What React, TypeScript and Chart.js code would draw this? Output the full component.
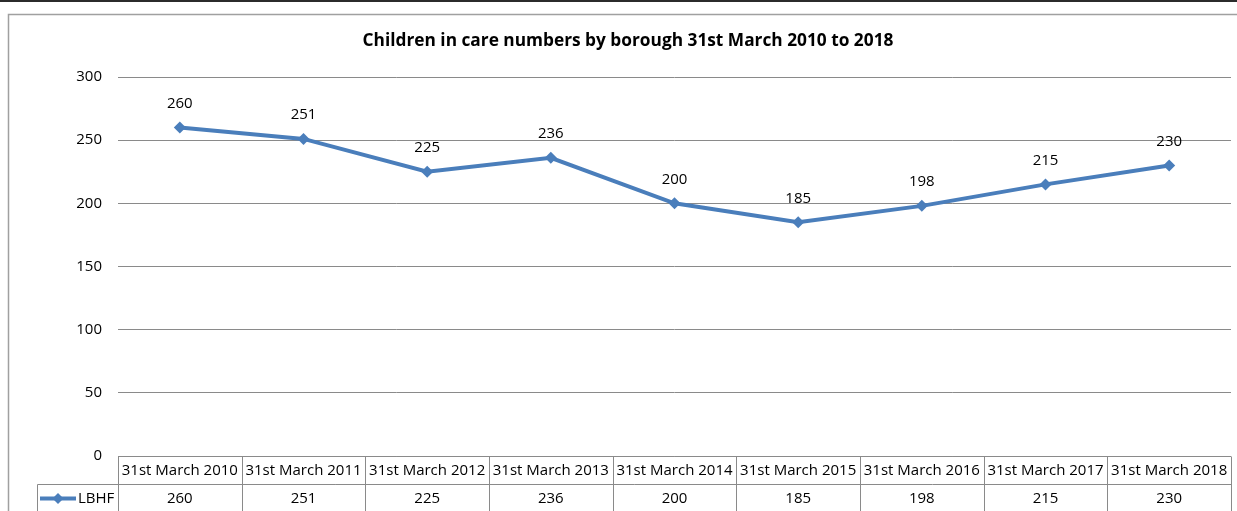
import React, { useEffect, useRef } from "react";
import { Chart, registerables } from "chart.js";

Chart.register(...registerables);

const chartTitle = "Children in care numbers by borough 31st March 2010 to 2018";
const categories = [
  "31st March 2010",
  "31st March 2011",
  "31st March 2012",
  "31st March 2013",
  "31st March 2014",
  "31st March 2015",
  "31st March 2016",
  "31st March 2017",
  "31st March 2018",
];
const seriesName = "LBHF";
const seriesValues = [260, 251, 225, 236, 200, 185, 198, 215, 230];
const yMin = 0;
const yMax = 300;
const yStep = 50;

const FONT = "'Open Sans', 'Liberation Sans', sans-serif";
const BLUE = "#4A7EBB";
const GRID = "#8a8a8a";

const decorPlugin = {
  id: "decor",
  beforeDraw(chart: any) {
    const { ctx, width, height } = chart;
    ctx.save();
    ctx.fillStyle = "#ffffff";
    ctx.fillRect(0, 0, width, height);
    // top dark rule
    ctx.strokeStyle = "#2b2b2b";
    ctx.lineWidth = 2;
    ctx.beginPath();
    ctx.moveTo(0, 1);
    ctx.lineTo(width, 1);
    ctx.stroke();
    // chart frame
    ctx.strokeStyle = "#a0a0a0";
    ctx.lineWidth = 1.5;
    ctx.beginPath();
    ctx.moveTo(width + 5, 14.5);
    ctx.lineTo(8.5, 14.5);
    ctx.lineTo(8.5, height + 5);
    ctx.stroke();
    // title
    ctx.fillStyle = "#000";
    ctx.font = `bold 17.3px ${FONT}`;
    ctx.textAlign = "center";
    ctx.textBaseline = "middle";
    ctx.fillText(chartTitle, 628, 41.5);
    ctx.restore();
  },
  afterDatasetsDraw(chart: any) {
    const { ctx } = chart;
    const meta = chart.getDatasetMeta(0);
    ctx.save();
    ctx.fillStyle = "#000";
    ctx.font = `15px ${FONT}`;
    ctx.textAlign = "center";
    ctx.textBaseline = "middle";
    meta.data.forEach((pt: any, i: number) => {
      ctx.fillText(String(seriesValues[i]), pt.x, pt.y - 24);
    });
    ctx.restore();
  },
  afterDraw(chart: any) {
    const { ctx, chartArea } = chart;
    const xs = chart.scales.x;
    const n = categories.length;
    const left = chartArea.left;
    const right = chartArea.right;
    const colW = (right - left) / n;
    const top = Math.round(chartArea.bottom) + 0.5;
    const rowH = 28;
    const legendLeft = 37.5;
    const bottom = chart.height + 5;
    ctx.save();
    ctx.strokeStyle = GRID;
    ctx.lineWidth = 1;
    ctx.beginPath();
    ctx.moveTo(left, top);
    ctx.lineTo(right, top);
    ctx.moveTo(legendLeft, top + rowH);
    ctx.lineTo(right, top + rowH);
    for (let i = 0; i <= n; i++) {
      const x = Math.round(left + i * colW) + 0.5;
      ctx.moveTo(x, top);
      ctx.lineTo(x, bottom);
    }
    ctx.moveTo(legendLeft, top + rowH);
    ctx.lineTo(legendLeft, bottom);
    ctx.stroke();

    ctx.fillStyle = "#000";
    ctx.font = `15px ${FONT}`;
    ctx.textAlign = "center";
    ctx.textBaseline = "middle";
    categories.forEach((c, i) => {
      const x = xs.getPixelForValue(i);
      ctx.fillText(c, x, top + rowH / 2);
      ctx.fillText(String(seriesValues[i]), x, top + rowH + rowH / 2);
    });

    // legend key
    const ly = top + rowH + rowH / 2;
    ctx.strokeStyle = BLUE;
    ctx.lineWidth = 4;
    ctx.beginPath();
    ctx.moveTo(40, ly);
    ctx.lineTo(76, ly);
    ctx.stroke();
    ctx.fillStyle = BLUE;
    ctx.beginPath();
    ctx.moveTo(58, ly - 5.5);
    ctx.lineTo(63.5, ly);
    ctx.lineTo(58, ly + 5.5);
    ctx.lineTo(52.5, ly);
    ctx.closePath();
    ctx.fill();
    ctx.fillStyle = "#000";
    ctx.textAlign = "left";
    ctx.fillText(seriesName, 78, ly);
    ctx.restore();
  },
};

export default function App() {
  const ref = useRef<HTMLCanvasElement | null>(null);
  useEffect(() => {
    if (!ref.current) return;
    const chart = new Chart(ref.current, {
      type: "line",
      data: {
        labels: categories,
        datasets: [
          {
            label: seriesName,
            data: seriesValues,
            borderColor: BLUE,
            backgroundColor: BLUE,
            borderWidth: 4,
            pointStyle: "rectRot",
            pointRadius: 6,
            pointHoverRadius: 6,
            pointBackgroundColor: BLUE,
            pointBorderColor: BLUE,
            pointBorderWidth: 0,
            tension: 0,
          },
        ],
      },
      options: {
        animation: false,
        responsive: false,
        maintainAspectRatio: false,
        events: [],
        layout: { padding: { left: 0, top: 77, right: 5, bottom: 55 } },
        plugins: {
          legend: { display: false },
          title: { display: false },
          tooltip: { enabled: false },
        },
        scales: {
          x: { type: "category", offset: true, display: false },
          y: {
            min: yMin,
            max: yMax,
            ticks: {
              stepSize: yStep,
              color: "#000",
              padding: 16,
              font: { family: FONT, size: 15 },
            },
            grid: { color: GRID, drawTicks: false, lineWidth: 1 },
            border: { display: false },
            afterFit(scale: any) {
              scale.width = 118;
            },
          },
        },
      },
      plugins: [decorPlugin],
    });
    return () => chart.destroy();
  }, []);
  return (
    <div style={{ position: "fixed", left: 0, top: 0, width: 1237, height: 511 }}>
      <canvas ref={ref} width={1237} height={511} style={{ display: "block" }} />
    </div>
  );
}
